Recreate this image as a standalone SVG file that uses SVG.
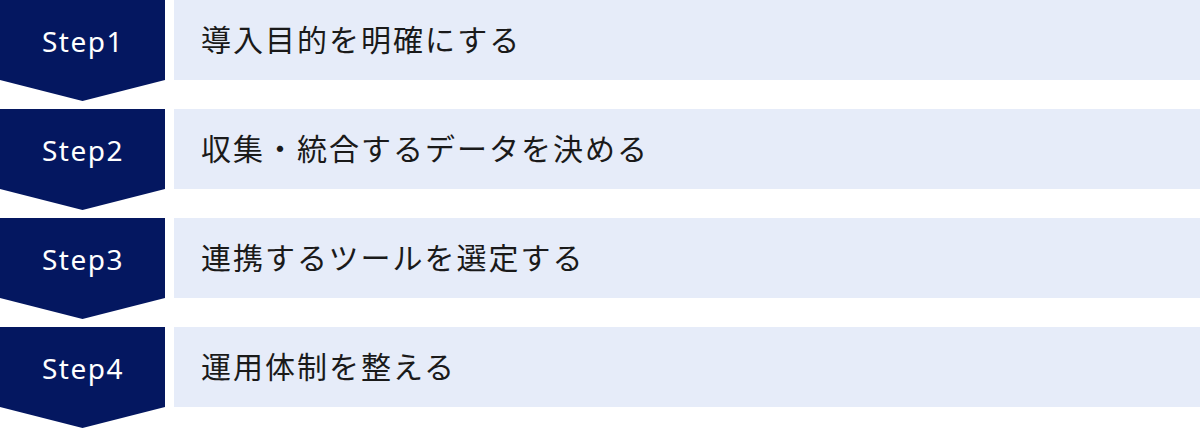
<svg xmlns="http://www.w3.org/2000/svg" width="1200" height="429" viewBox="0 0 1200 429">
<style>
.arrow{fill:#041760}
.box{fill:#E6ECF9}
.step{font-family:"Noto Sans","Noto Sans CJK JP",sans-serif;font-size:28px;font-weight:400;fill:#ffffff;letter-spacing:1.5px;text-anchor:middle}
.label{font-family:"Noto Sans CJK JP","Noto Sans",sans-serif;font-size:30px;font-weight:400;fill:#1a1a1a;letter-spacing:2px}
</style>
<rect width="1200" height="429" fill="#ffffff"/>
<g id="step1">
<polygon class="arrow" points="0,0 165,0 165,80 82.5,101 0,80"/>
<rect class="box" x="174" y="0" width="1026" height="80"/>
<text class="step" x="83" y="52">Step1</text>
<text class="label" x="201" y="50.5">導入目的を明確にする</text>
</g>
<g id="step2">
<polygon class="arrow" points="0,109 165,109 165,189 82.5,210 0,189"/>
<rect class="box" x="174" y="109" width="1026" height="80"/>
<text class="step" x="83" y="161">Step2</text>
<text class="label" x="201" y="159.5">収集・統合するデータを決める</text>
</g>
<g id="step3">
<polygon class="arrow" points="0,218 165,218 165,298 82.5,319 0,298"/>
<rect class="box" x="174" y="218" width="1026" height="80"/>
<text class="step" x="83" y="270">Step3</text>
<text class="label" x="201" y="268.5">連携するツールを選定する</text>
</g>
<g id="step4">
<polygon class="arrow" points="0,327 165,327 165,407 82.5,428 0,407"/>
<rect class="box" x="174" y="327" width="1026" height="80"/>
<text class="step" x="83" y="379">Step4</text>
<text class="label" x="201" y="377.5">運用体制を整える</text>
</g>
<g id="connectors"/>
</svg>
